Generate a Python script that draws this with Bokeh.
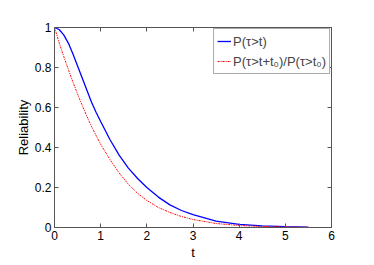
from bokeh.plotting import figure
from bokeh.models import LinearAxis, Range1d, FixedTicker, Legend, LegendItem
from bokeh.embed import file_html
from bokeh.resources import INLINE

# data
t_blue = [0, 0.1, 0.2, 0.3, 0.4, 0.5, 0.6, 0.7, 0.8, 0.9, 1.0, 1.2, 1.4, 1.6, 1.8,
          2.0, 2.25, 2.5, 2.75, 3.0, 3.5, 4.0, 4.5, 5.0, 5.5]
r_blue = [1, 0.99, 0.963, 0.922, 0.868, 0.808, 0.747, 0.687, 0.628, 0.576, 0.53, 0.44,
          0.362, 0.297, 0.245, 0.2, 0.152, 0.113, 0.085, 0.064, 0.032, 0.016, 0.008,
          0.004, 0.002]
t_red = [0, 0.1, 0.2, 0.3, 0.4, 0.5, 0.6, 0.7, 0.8, 0.9, 1.0, 1.2, 1.4, 1.6, 1.8,
         2.0, 2.25, 2.5, 2.75, 3.0, 3.5, 4.0, 4.5, 5.0, 5.5]
r_red = [1, 0.925, 0.855, 0.79, 0.727, 0.667, 0.611, 0.557, 0.506, 0.46, 0.416, 0.34,
         0.273, 0.216, 0.171, 0.135, 0.1, 0.075, 0.055, 0.04, 0.02, 0.01, 0.005,
         0.0025, 0.0012]
x_ticks = [0, 1, 2, 3, 4, 5, 6]
y_ticks = [0, 0.2, 0.4, 0.6, 0.8, 1]
y_tick_labels = {0: "0", 0.2: "0.2", 0.4: "0.4", 0.6: "0.6", 0.8: "0.8", 1: "1"}
label_blue = "P(τ>t)"
label_red = "P(τ>t+t₀)/P(τ>t₀)"

FONT = "Liberation Sans"
AX = "#555555"

p = figure(width=370, height=260, output_backend="svg", toolbar_location=None,
           x_range=Range1d(0, 6), y_range=Range1d(0, 1),
           min_border_left=54, min_border_right=39, min_border_top=27,
           min_border_bottom=33, x_axis_label="t", y_axis_label="Reliability")
p.frame_width = 277
p.frame_height = 200
p.xgrid.visible = False
p.ygrid.visible = False
p.outline_line_color = AX
p.background_fill_color = "white"
p.border_fill_color = "white"

p.xaxis.ticker = FixedTicker(ticks=x_ticks)
p.yaxis.ticker = FixedTicker(ticks=y_ticks)
p.yaxis.major_label_overrides = y_tick_labels

for ax in (p.xaxis[0], p.yaxis[0]):
    ax.axis_line_color = AX
    ax.major_tick_line_color = AX
    ax.major_tick_in = 4
    ax.major_tick_out = 0
    ax.minor_tick_line_color = None
    ax.major_label_text_font = FONT
    ax.major_label_text_font_size = "12px"
    ax.major_label_text_color = "black"
    ax.axis_label_text_font = FONT
    ax.axis_label_text_font_size = "13px"
    ax.axis_label_text_font_style = "normal"
    ax.axis_label_text_color = "black"
p.xaxis.major_label_standoff = 3
p.xaxis.axis_label_standoff = 2
p.yaxis.major_label_standoff = 3
p.yaxis.axis_label_standoff = 1

top = LinearAxis(ticker=FixedTicker(ticks=x_ticks),
                 major_label_overrides={t: "" for t in x_ticks},
                 axis_line_color=AX, major_tick_line_color=AX, major_tick_in=4,
                 major_tick_out=0, minor_tick_line_color=None)
right = LinearAxis(ticker=FixedTicker(ticks=y_ticks),
                   major_label_overrides={t: "" for t in y_ticks},
                   axis_line_color=AX, major_tick_line_color=AX, major_tick_in=4,
                   major_tick_out=0, minor_tick_line_color=None)
p.add_layout(top, "above")
p.add_layout(right, "right")

l1 = p.line(t_blue, r_blue, line_color="#0000FF", line_width=1.3)
l2 = p.line(t_red, r_red, line_color="#FF0000", line_width=1, line_dash="2 1 1 1")

leg = Legend(items=[LegendItem(label=label_blue, renderers=[l1]),
                    LegendItem(label=label_red, renderers=[l2])],
             location="top_right")
leg.margin = 1
leg.padding = 3
leg.spacing = 2
leg.glyph_width = 14
leg.glyph_height = 18
leg.label_height = 18
leg.label_standoff = 2
leg.label_text_font = FONT
leg.label_text_font_size = "13px"
leg.border_line_color = AX
leg.background_fill_alpha = 1
p.add_layout(leg)

open("out.html", "w").write(file_html(p, INLINE))
